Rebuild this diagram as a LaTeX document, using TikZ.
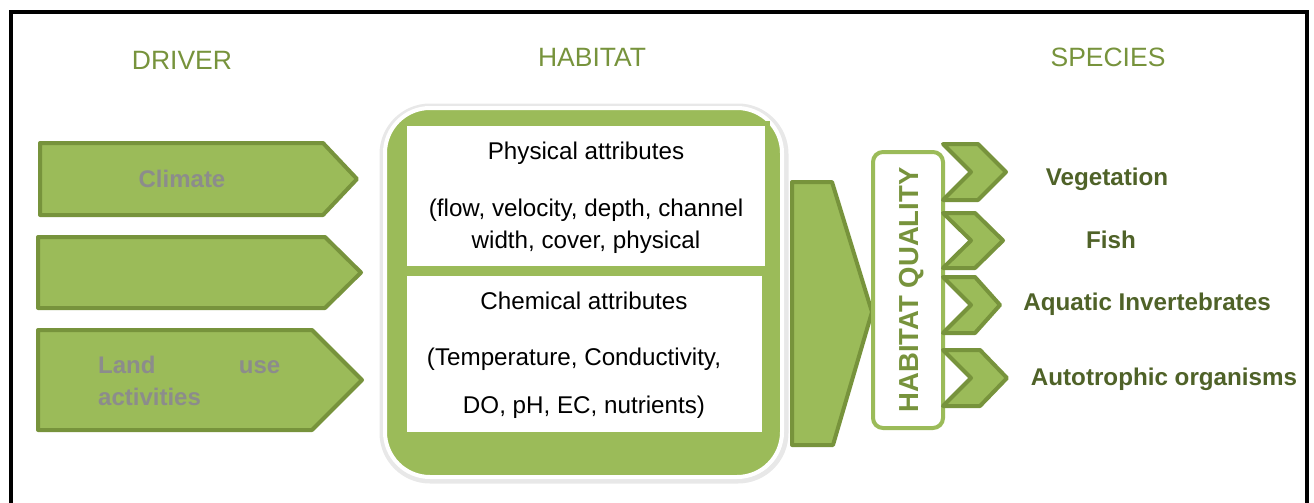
\documentclass[tikz,border=0pt]{standalone}
\usepackage{fontspec}
\setmainfont{Liberation Sans}
\definecolor{leaf}{HTML}{9BBB59}
\definecolor{leafdark}{HTML}{77933C}
\definecolor{olive}{HTML}{4F6228}
\definecolor{drvgray}{HTML}{8C8C8C}
\newcommand\nohyph{\hyphenpenalty=10000\relax}
\tikzset{
  hdr/.style={text=leafdark,font=\fontsize{26.5}{30}\selectfont},
  arrowshape/.style={fill=leaf,draw=leafdark,line width=4pt,line join=round},
  boxtext/.style={font=\fontsize{24.2}{32}\selectfont,align=center,inner sep=0pt},
  spclabel/.style={text=olive,font=\bfseries\fontsize{24.2}{28}\selectfont,inner sep=0pt},
  drvlabel/.style={text=drvgray,font=\bfseries\fontsize{24}{32}\selectfont\nohyph,inner sep=0pt}
}
\begin{document}
\begin{tikzpicture}[x=1pt,y=-1pt]
\useasboundingbox (0,0) rectangle (1314,503);
% outer frame, open at the bottom
\draw[line width=4pt] (10.5,510) -- (10.5,12.5) -- (1307,12.5) -- (1307,510);
% headings
\node[hdr] (driver) at (182,60) {DRIVER};
\node[hdr] (habitat) at (592,57) {HABITAT};
\node[hdr] (species) at (1108,57) {SPECIES};
% driver arrows
\foreach \xl/\yt/\yb/\xr/\xt in {40/143/215/323/357, 38/237/308/325/361, 38/330/430/312/362}
  \draw[arrowshape] (\xl,\yt) -- (\xr,\yt) -- (\xt,{(\yt+\yb)/2}) -- (\xr,\yb) -- (\xl,\yb) -- cycle;
\node[drvlabel] (climate) at (182,179) {Climate};
\node[drvlabel,text width=182pt,align=justify,anchor=north west] (landuse) at (98,356) {Land use activities};
% habitat box
\draw[gray!18,line width=5pt,rounded corners=48pt] (382,106) rectangle (786,481);
\draw[white,fill=leaf,line width=4pt,rounded corners=45pt] (385,108) rectangle (782,477);
\fill[leaf] (403,121) rectangle (770,268);
\fill[white] (407,126) rectangle (765,266);
\fill[white] (407,276) rectangle (762,432);
\node[boxtext] (phys) at (586,153) {Physical attributes};
\node[boxtext] (physlist) at (586,226) {(flow, velocity, depth, channel\\width, cover, physical};
\node[boxtext] (chem) at (584,301) {Chemical attributes};
\node[boxtext] (chemtemp) at (574,359) {(Temperature, Conductivity,};
\node[boxtext] (chemlist) at (584,407) {DO, pH, EC, nutrients)};
% big arrow into habitat quality
\draw[arrowshape] (792,182) -- (832,182) -- (872,312) -- (833,445) -- (792,445) -- cycle;
% habitat quality box
\draw[leaf,fill=white,line width=4pt,rounded corners=10pt] (873,152) rectangle (943,428);
\node[rotate=90,text=leafdark,font=\bfseries\fontsize{27.5}{30}\selectfont,inner sep=0pt] (quality) at (912,290) {HABITAT QUALITY};
% chevrons
\foreach \yt/\yb/\xr/\xt in {144/200/978/1006, 213/268/975/1003, 277/333/975/1000, 350/406/980/1007}
  \draw[arrowshape] (943,\yt) -- (\xr,\yt) -- (\xt,{(\yt+\yb)/2}) -- (\xr,\yb) -- (943,\yb) -- (971,{(\yt+\yb)/2}) -- cycle;
\node[spclabel] (veg) at (1107,179) {Vegetation};
\node[spclabel] (fish) at (1111,240) {Fish};
\node[spclabel] (invert) at (1147,304) {Aquatic Invertebrates};
\node[spclabel] (auto) at (1164,379) {Autotrophic organisms};
\end{tikzpicture}
\end{document}
